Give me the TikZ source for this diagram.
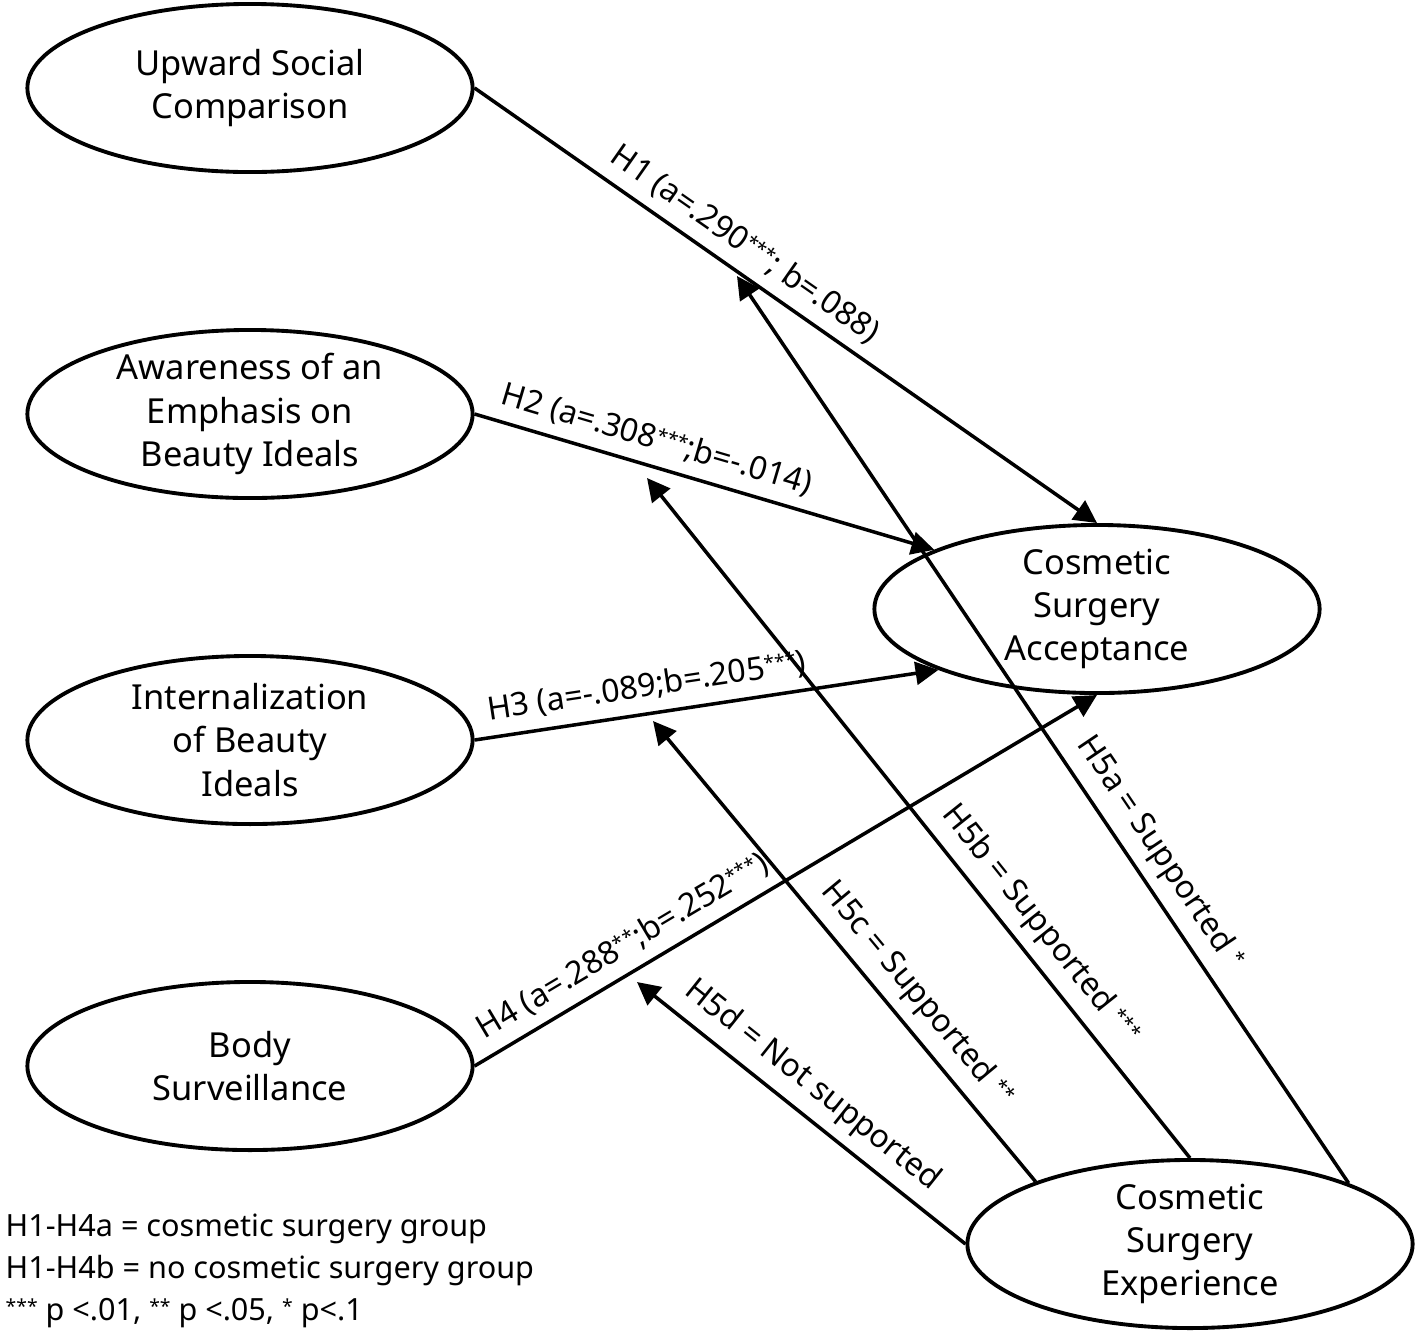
\documentclass[tikz,border=0pt]{standalone}
\usepackage{fontspec}
\setmainfont{Noto Sans}
\usetikzlibrary{shapes.geometric,arrows.meta}

\newcommand{\stars}[1]{\raisebox{0.45ex}{\fontsize{5.5}{5}\selectfont#1}}

\tikzset{
  latent/.style={ellipse, draw, line width=1.1pt, minimum width=4.45cm,
    minimum height=1.68cm, inner sep=0pt},
  vartext/.style={align=center, inner sep=0pt,
    font=\fontsize{9.8}{12.3}\selectfont},
  conn/.style={line width=1pt, -{Triangle[length=6.5pt,width=6.5pt]}},
  hyplabel/.style={sloped, above=1pt, inner sep=2pt,
    font=\fontsize{9.1}{11}\selectfont}
}

\begin{document}
\begin{tikzpicture}[x=0.01cm, y=-0.01cm]
  \useasboundingbox (0,0) rectangle (1416,1336);

  % constructs
  \node[latent, label={[vartext]center:Upward Social\\Comparison}] (usc) at (250,88) {};
  \node[latent, label={[vartext]center:Awareness of an\\Emphasis on\\Beauty Ideals}] (aeb) at (250,414) {};
  \node[latent, label={[vartext]center:Internalization\\of Beauty\\Ideals}] (ibi) at (250,740) {};
  \node[latent, label={[vartext]center:Body\\Surveillance}] (bsv) at (250,1066) {};
  \node[latent, label={[vartext]center:Cosmetic\\Surgery\\Acceptance}] (csa) at (1097,609) {};
  \node[latent, label={[vartext]center:Cosmetic\\Surgery\\Experience}] (cse) at (1190,1244) {};

  % moderation targets
  \coordinate (t5a) at (737,276);
  \coordinate (t5b) at (647,478);
  \coordinate (t5c) at (653,721);
  \coordinate (t5d) at (637,982);

  % direct paths
  \draw[conn] (usc.east) -- (csa.north)
    node[hyplabel, pos=0.41] {H1 (a=.290\stars{***}; b=.088)};
  \draw[conn] (aeb.east) -- (csa.160)
    node[hyplabel, pos=0.38] {H2 (a=.308\stars{***};b=-.014)};
  \draw[conn] (ibi.east) -- (csa.201)
    node[hyplabel, pos=0.38] {H3 (a=-.089;b=.205\stars{***})};
  \draw[conn] (bsv.east) -- (csa.south)
    node[hyplabel, pos=0.26] {H4 (a=.288\stars{**};b=.252\stars{***})};

  % moderating paths
  \draw[conn] (cse.21.5) -- (t5a)
    node[hyplabel, pos=0.347] {H5a = Supported \stars{*}};
  \draw[conn] (cse.north) -- (t5b)
    node[hyplabel, pos=0.317] {H5b = Supported \stars{***}};
  \draw[conn] (cse.158) -- (t5c)
    node[hyplabel, pos=0.367] {H5c = Supported \stars{**}};
  \draw[conn] (cse.west) -- (t5d)
    node[hyplabel, pos=0.52] {H5d = Not supported};

  % notes
  \node[anchor=north west, align=left, inner sep=0pt,
    font=\fontsize{8.7}{12}\selectfont] (notes) at (5,1213)
    {H1-H4a = cosmetic surgery group\\
     H1-H4b = no cosmetic surgery group\\
     \stars{***} p <.01, \stars{**} p <.05, \stars{*} p<.1};
\end{tikzpicture}
\end{document}
